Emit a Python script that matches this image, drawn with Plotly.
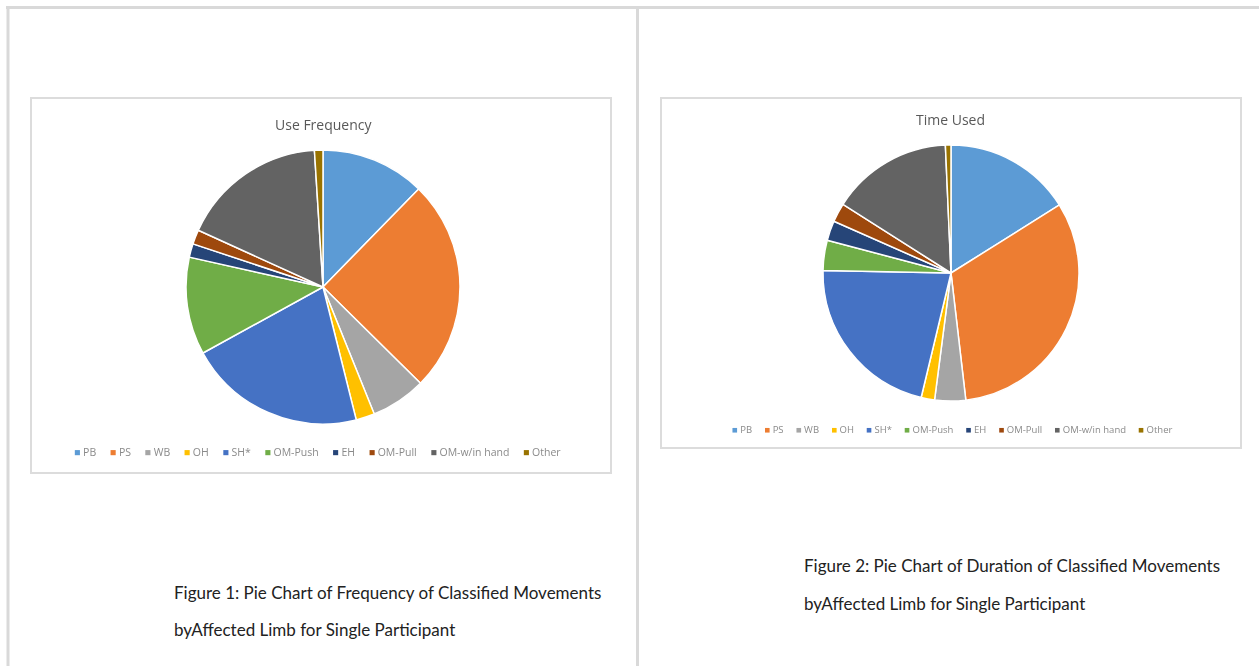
import plotly.graph_objects as go

# Movement categories (shared by both charts)
categories = ["PB", "PS", "WB", "OH", "SH*", "OM-Push", "EH", "OM-Pull", "OM-w/in hand", "Other"]
colors = ["#5B9BD5", "#ED7D31", "#A5A5A5", "#FFC000", "#4472C4",
          "#70AD47", "#264478", "#9E480E", "#636363", "#997300"]

# Percent of movements by count
use_frequency = [12.3, 25.1, 6.5, 2.2, 20.9, 11.5, 1.6, 1.7, 17.2, 1.0]
# Percent of total duration
time_used = [16.1, 32.1, 3.9, 1.7, 21.6, 3.8, 2.5, 2.4, 15.3, 0.7]

W, H = 1259, 666


def fx(x):
    return x / W


def fy(y):
    return 1 - y / H


def pie_domain(cx, cy, r):
    return dict(x=[fx(cx - r), fx(cx + r)], y=[fy(cy + r), fy(cy - r)])


fig = go.Figure()

fig.add_trace(go.Pie(
    labels=categories, values=use_frequency, sort=False, direction="clockwise",
    rotation=0, textinfo="none", hoverinfo="label+percent",
    marker=dict(colors=colors, line=dict(color="white", width=1.5)),
    domain=pie_domain(323, 287, 137), showlegend=False,
))
fig.add_trace(go.Pie(
    labels=categories, values=time_used, sort=False, direction="clockwise",
    rotation=0, textinfo="none", hoverinfo="label+percent",
    marker=dict(colors=colors, line=dict(color="white", width=1.5)),
    domain=pie_domain(951, 273, 128), showlegend=False,
))

frame = "#d9d9d9"
shapes = [
    # page frame
    dict(type="line", x0=fx(6), x1=1, y0=fy(7.5), y1=fy(7.5), line=dict(color=frame, width=3)),
    dict(type="line", x0=fx(8), x1=fx(8), y0=fy(7.5), y1=0, line=dict(color=frame, width=3)),
    dict(type="line", x0=fx(637.5), x1=fx(637.5), y0=fy(7.5), y1=0, line=dict(color=frame, width=3)),
    # chart boxes
    dict(type="rect", x0=fx(31), x1=fx(611), y0=fy(98), y1=fy(473), line=dict(color="#dcdcdc", width=2)),
    dict(type="rect", x0=fx(661), x1=fx(1241), y0=fy(98), y1=fy(448), line=dict(color="#dcdcdc", width=2)),
]


def legend_text(labels, cols):
    parts = [f"<span style='color:{c}'>■</span> {lab}" for lab, c in zip(labels, cols)]
    return "&nbsp;&nbsp;&nbsp;&nbsp;&nbsp;".join(parts)


title_font = dict(family="Open Sans", size=14, color="#595959")
legend_font = dict(family="Open Sans", size=10.5, color="#8a8a8a")
cap_font = dict(family="Lato", size=17, color="#222222")

annotations = [
    dict(text="Use Frequency", x=fx(323), y=fy(124), font=title_font),
    dict(text="Time Used", x=fx(951), y=fy(120), font=title_font),
    dict(text=legend_text(categories, colors), x=fx(318), y=fy(452), font=legend_font),
    dict(text=legend_text(categories, colors), x=fx(952), y=fy(429), font=dict(legend_font, size=9.5)),
    dict(text="Figure 1: Pie Chart of Frequency of Classified Movements", x=fx(172), y=fy(592),
         xanchor="left", font=cap_font),
    dict(text="byAffected Limb for Single Participant", x=fx(172), y=fy(629),
         xanchor="left", font=cap_font),
    dict(text="Figure 2: Pie Chart of Duration of Classified Movements", x=fx(802), y=fy(565),
         xanchor="left", font=cap_font),
    dict(text="byAffected Limb for Single Participant", x=fx(802), y=fy(603),
         xanchor="left", font=cap_font),
]
for a in annotations:
    a.update(xref="paper", yref="paper", showarrow=False)
    a.setdefault("xanchor", "center")
    a.setdefault("yanchor", "middle")

fig.update_layout(
    width=W, height=H, margin=dict(l=0, r=0, t=0, b=0),
    paper_bgcolor="white", plot_bgcolor="white",
    shapes=shapes, annotations=annotations,
)

# Soften the embedded chart images (pies, chart titles and legends)
soften = """
var gd = document.querySelector('.plotly-graph-div');
function soften() {
  var svg = gd.querySelector('svg.main-svg');
  var defs = svg.querySelector('defs');
  if (!document.getElementById('soft')) {
    var ns = 'http://www.w3.org/2000/svg';
    var f = document.createElementNS(ns, 'filter');
    f.setAttribute('id', 'soft');
    f.setAttribute('x', '-5%'); f.setAttribute('y', '-5%');
    f.setAttribute('width', '110%'); f.setAttribute('height', '110%');
    var b = document.createElementNS(ns, 'feGaussianBlur');
    b.setAttribute('stdDeviation', '0.7');
    f.appendChild(b); defs.appendChild(f);
  }
  gd.querySelectorAll('.pielayer').forEach(function(e){ e.setAttribute('filter', 'url(#soft)'); });
  gd.querySelectorAll('.annotation').forEach(function(e){
    var i = +e.getAttribute('data-index');
    if (i < 4) e.setAttribute('filter', 'url(#soft)');
  });
}
soften();
gd.on('plotly_afterplot', soften);
"""

fig.write_html("out.html", config={"displayModeBar": False}, post_script=soften)
